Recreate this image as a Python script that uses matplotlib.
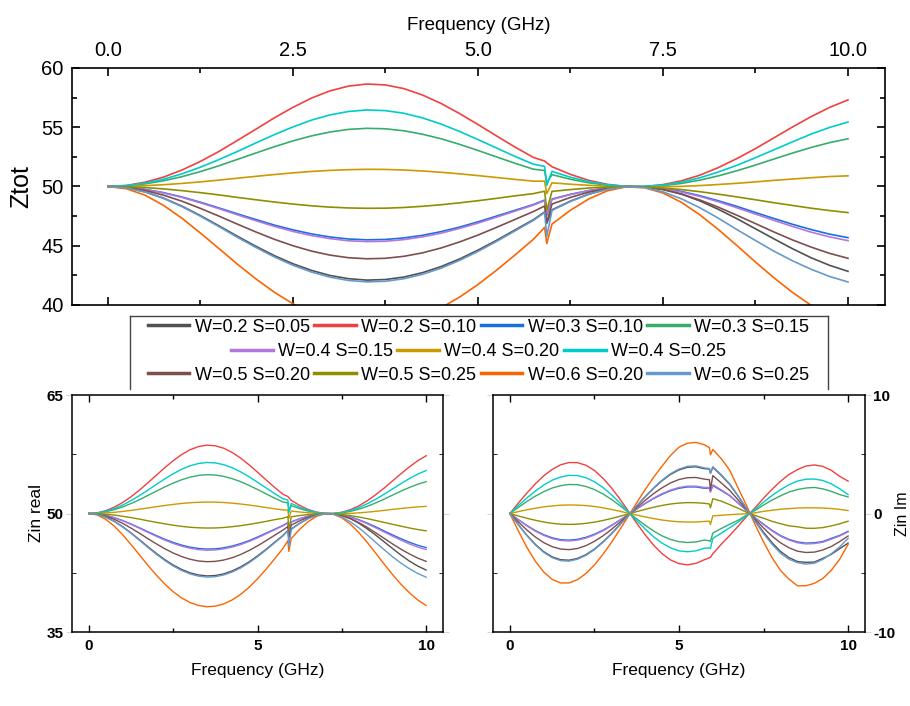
import numpy as np
import matplotlib
matplotlib.use("Agg")
import matplotlib.pyplot as plt
from matplotlib.ticker import MultipleLocator, FixedLocator
from matplotlib.lines import Line2D

plt.rcParams['font.family'] = ['Liberation Sans', 'DejaVu Sans']
plt.rcParams['axes.unicode_minus'] = False

# frequency points (GHz), extra points around the glitch near 5.9 GHz
freq = [0.0, 0.25, 0.5, 0.75, 1.0, 1.25, 1.5, 1.75, 2.0, 2.25, 2.5, 2.75, 3.0, 3.25, 3.5,
        3.75, 4.0, 4.25, 4.5, 4.75, 5.0, 5.25, 5.5, 5.75, 5.9, 5.93, 6.0, 6.25, 6.5, 6.75,
        7.0, 7.25, 7.5, 7.75, 8.0, 8.25, 8.5, 8.75, 9.0, 9.25, 9.5, 9.75, 10.0]

labels = ['W=0.2 S=0.05', 'W=0.2 S=0.10', 'W=0.3 S=0.10', 'W=0.3 S=0.15',
          'W=0.4 S=0.15', 'W=0.4 S=0.20', 'W=0.4 S=0.25',
          'W=0.5 S=0.20', 'W=0.5 S=0.25', 'W=0.6 S=0.20', 'W=0.6 S=0.25']
colors = ['#515151', '#F14040', '#1A6FDF', '#37AD6B',
          '#B177DE', '#CC9900', '#00CBCC',
          '#7D4E4E', '#8E8E00', '#FB6501', '#6699CC']

# real part of Zin (ohm)
re_w02_s005 = [50.00, 49.89, 49.55, 49.02, 48.34, 47.54, 46.68, 45.80, 44.95, 44.16, 43.48, 42.92, 42.49, 42.22, 42.10, 42.15, 42.36, 42.73, 43.24, 43.88, 44.63, 45.45, 46.33, 47.20, 47.85, 46.90, 48.03, 48.77, 49.36, 49.78, 49.98, 49.97, 49.76, 49.36, 48.78, 48.07, 47.28, 46.43, 45.58, 44.75, 43.99, 43.35, 42.84]
re_w02_s010 = [50.00, 50.09, 50.36, 50.79, 51.39, 52.12, 52.96, 53.89, 54.84, 55.80, 56.68, 57.46, 58.07, 58.47, 58.65, 58.57, 58.26, 57.72, 57.01, 56.16, 55.23, 54.27, 53.33, 52.45, 52.15, 52.00, 51.67, 51.02, 50.51, 50.18, 50.01, 50.00, 50.16, 50.48, 50.96, 51.60, 52.36, 53.20, 54.11, 55.02, 55.89, 56.67, 57.31]
re_w03_s010 = [50.00, 49.94, 49.76, 49.48, 49.11, 48.67, 48.19, 47.69, 47.21, 46.74, 46.34, 46.00, 45.74, 45.57, 45.50, 45.53, 45.66, 45.88, 46.19, 46.57, 47.02, 47.50, 47.99, 48.48, 48.85, 47.60, 48.94, 49.34, 49.66, 49.88, 49.99, 49.97, 49.83, 49.58, 49.22, 48.79, 48.32, 47.80, 47.30, 46.81, 46.37, 45.98, 45.68]
re_w03_s015 = [50.00, 50.05, 50.22, 50.48, 50.83, 51.26, 51.75, 52.29, 52.83, 53.36, 53.85, 54.27, 54.60, 54.82, 54.91, 54.87, 54.70, 54.41, 54.03, 53.56, 53.04, 52.50, 51.96, 51.46, 51.35, 50.30, 51.00, 50.61, 50.31, 50.11, 50.01, 50.00, 50.08, 50.26, 50.54, 50.90, 51.33, 51.81, 52.32, 52.82, 53.29, 53.70, 54.03]
re_w04_s015 = [50.00, 49.94, 49.75, 49.46, 49.08, 48.62, 48.13, 47.61, 47.11, 46.63, 46.21, 45.86, 45.60, 45.42, 45.35, 45.38, 45.52, 45.75, 46.06, 46.46, 46.91, 47.41, 47.92, 48.43, 48.80, 47.70, 48.90, 49.32, 49.65, 49.88, 49.99, 49.97, 49.80, 49.53, 49.16, 48.71, 48.20, 47.67, 47.14, 46.63, 46.15, 45.75, 45.43]
re_w04_s020 = [50.00, 50.02, 50.07, 50.15, 50.26, 50.39, 50.54, 50.70, 50.86, 51.01, 51.15, 51.27, 51.36, 51.42, 51.45, 51.44, 51.39, 51.31, 51.20, 51.07, 50.92, 50.76, 50.60, 50.45, 50.45, 49.40, 50.31, 50.19, 50.10, 50.03, 50.00, 49.99, 49.98, 50.01, 50.08, 50.17, 50.27, 50.39, 50.52, 50.63, 50.74, 50.84, 50.90]
re_w04_s025 = [50.00, 50.07, 50.28, 50.61, 51.07, 51.63, 52.27, 52.96, 53.68, 54.38, 55.03, 55.60, 56.04, 56.33, 56.46, 56.40, 56.18, 55.79, 55.27, 54.65, 53.96, 53.25, 52.54, 51.88, 51.70, 50.10, 51.28, 50.78, 50.40, 50.14, 50.01, 50.01, 50.12, 50.36, 50.74, 51.23, 51.79, 52.43, 53.10, 53.77, 54.42, 54.98, 55.44]
re_w05_s020 = [50.00, 49.92, 49.67, 49.27, 48.76, 48.15, 47.50, 46.82, 46.16, 45.54, 45.00, 44.55, 44.21, 43.99, 43.90, 43.94, 44.11, 44.40, 44.81, 45.32, 45.90, 46.55, 47.22, 47.89, 48.35, 47.00, 48.52, 49.08, 49.53, 49.84, 49.99, 49.95, 49.74, 49.36, 48.86, 48.25, 47.57, 46.87, 46.16, 45.49, 44.89, 44.36, 43.94]
re_w05_s025 = [50.00, 49.98, 49.91, 49.80, 49.65, 49.48, 49.29, 49.08, 48.88, 48.69, 48.52, 48.37, 48.26, 48.19, 48.16, 48.17, 48.23, 48.33, 48.46, 48.62, 48.80, 49.00, 49.21, 49.40, 49.60, 48.00, 49.59, 49.74, 49.87, 49.95, 50.00, 49.96, 49.87, 49.74, 49.56, 49.35, 49.12, 48.88, 48.63, 48.40, 48.17, 47.97, 47.80]
re_w06_s020 = [50.00, 49.81, 49.27, 48.41, 47.32, 46.07, 44.76, 43.44, 42.20, 41.07, 40.10, 39.31, 38.73, 38.36, 38.20, 38.27, 38.56, 39.06, 39.76, 40.66, 41.73, 42.93, 44.22, 45.55, 46.55, 45.20, 46.83, 48.00, 48.96, 49.64, 49.97, 49.90, 49.45, 48.66, 47.60, 46.36, 45.01, 43.62, 42.29, 41.06, 39.98, 39.06, 38.35]
re_w06_s025 = [50.00, 49.88, 49.54, 49.00, 48.30, 47.49, 46.61, 45.71, 44.85, 44.05, 43.35, 42.78, 42.35, 42.07, 41.95, 42.00, 42.22, 42.59, 43.10, 43.76, 44.52, 45.36, 46.25, 47.14, 47.80, 45.80, 47.98, 48.74, 49.35, 49.77, 49.98, 49.91, 49.55, 48.96, 48.20, 47.32, 46.36, 45.44, 44.54, 43.73, 43.02, 42.41, 41.94]

# imaginary part of Zin (ohm)
im_w02_s005 = [0.00, -0.94, -1.83, -2.60, -3.22, -3.66, -3.90, -3.94, -3.79, -3.47, -3.00, -2.40, -1.71, -0.95, -0.16, 0.64, 1.41, 2.13, 2.77, 3.30, 3.68, 3.90, 3.94, 3.78, 3.75, 3.40, 3.90, 3.22, 2.45, 1.46, 0.40, -0.62, -1.58, -2.46, -3.20, -3.72, -4.05, -4.12, -4.10, -3.79, -3.45, -2.97, -2.50]
im_w02_s010 = [0.00, 0.88, 1.72, 2.50, 3.18, 3.72, 4.11, 4.30, 4.29, 4.07, 3.63, 2.98, 2.17, 1.23, 0.21, -0.82, -1.80, -2.68, -3.39, -3.92, -4.23, -4.33, -4.21, -3.90, -3.74, -3.70, -3.40, -2.59, -1.85, -1.07, -0.25, 0.48, 1.29, 2.04, 2.71, 3.29, 3.70, 4.00, 4.10, 3.98, 3.65, 3.14, 2.73]
im_w03_s010 = [0.00, -0.52, -1.01, -1.44, -1.79, -2.05, -2.21, -2.25, -2.18, -2.01, -1.75, -1.41, -1.01, -0.56, -0.10, 0.38, 0.84, 1.26, 1.62, 1.92, 2.13, 2.24, 2.24, 2.13, 2.15, 1.85, 2.35, 1.94, 1.50, 0.87, 0.25, -0.36, -0.90, -1.42, -1.86, -2.18, -2.40, -2.50, -2.47, -2.37, -2.10, -1.85, -1.50]
im_w03_s015 = [0.00, 0.51, 1.01, 1.46, 1.84, 2.15, 2.35, 2.45, 2.43, 2.28, 2.02, 1.65, 1.20, 0.67, 0.11, -0.45, -0.99, -1.48, -1.89, -2.19, -2.38, -2.45, -2.40, -2.24, -2.30, -2.35, -1.65, -1.27, -0.90, -0.57, -0.13, 0.26, 0.71, 1.13, 1.49, 1.81, 2.02, 2.15, 2.20, 2.08, 1.87, 1.60, 1.40]
im_w04_s015 = [0.00, -0.53, -1.04, -1.49, -1.85, -2.12, -2.28, -2.32, -2.25, -2.08, -1.81, -1.46, -1.04, -0.58, -0.10, 0.39, 0.86, 1.30, 1.68, 1.98, 2.20, 2.31, 2.31, 2.20, 2.20, 1.80, 2.42, 2.00, 1.53, 0.89, 0.26, -0.37, -0.94, -1.47, -1.92, -2.24, -2.47, -2.57, -2.54, -2.43, -2.17, -1.90, -1.55]
im_w04_s020 = [0.00, 0.16, 0.31, 0.44, 0.56, 0.64, 0.70, 0.72, 0.71, 0.67, 0.59, 0.48, 0.34, 0.19, 0.03, -0.13, -0.29, -0.43, -0.55, -0.64, -0.70, -0.72, -0.72, -0.67, -0.65, -0.93, -0.20, -0.15, -0.10, -0.06, -0.02, 0.06, 0.18, 0.27, 0.36, 0.41, 0.46, 0.48, 0.48, 0.46, 0.42, 0.35, 0.25]
im_w04_s025 = [0.00, 0.67, 1.31, 1.89, 2.40, 2.81, 3.08, 3.22, 3.20, 3.02, 2.68, 2.20, 1.59, 0.90, 0.15, -0.60, -1.32, -1.97, -2.50, -2.90, -3.15, -3.23, -3.15, -2.93, -2.90, -2.95, -2.10, -1.66, -1.20, -0.73, -0.17, 0.35, 0.96, 1.52, 2.00, 2.43, 2.73, 2.89, 2.91, 2.79, 2.51, 2.09, 1.60]
im_w05_s020 = [0.00, -0.71, -1.39, -1.98, -2.46, -2.80, -3.00, -3.05, -2.95, -2.71, -2.35, -1.89, -1.35, -0.75, -0.13, 0.50, 1.11, 1.68, 2.17, 2.58, 2.87, 3.02, 3.04, 2.90, 2.85, 2.00, 3.20, 2.58, 1.95, 1.14, 0.32, -0.48, -1.22, -1.90, -2.47, -2.89, -3.18, -3.29, -3.26, -3.08, -2.79, -2.37, -1.90]
im_w05_s025 = [0.00, -0.21, -0.40, -0.57, -0.72, -0.83, -0.90, -0.92, -0.90, -0.83, -0.73, -0.59, -0.42, -0.24, -0.04, 0.16, 0.35, 0.53, 0.68, 0.80, 0.88, 0.92, 0.91, 0.86, 0.80, 0.48, 1.25, 1.04, 0.75, 0.44, 0.10, -0.17, -0.40, -0.66, -0.86, -1.04, -1.12, -1.24, -1.25, -1.19, -1.05, -0.87, -0.65]
im_w06_s020 = [0.00, -1.48, -2.85, -4.02, -4.94, -5.56, -5.86, -5.86, -5.58, -5.06, -4.34, -3.45, -2.45, -1.36, -0.23, 0.91, 2.02, 3.06, 4.00, 4.90, 5.60, 5.93, 6.00, 5.80, 5.55, 4.95, 5.40, 4.63, 3.65, 2.14, 0.65, -0.94, -2.40, -3.72, -4.80, -5.53, -6.10, -6.10, -5.90, -5.49, -4.80, -3.87, -2.60]
im_w06_s025 = [0.00, -0.96, -1.86, -2.65, -3.28, -3.73, -3.98, -4.02, -3.86, -3.53, -3.05, -2.44, -1.74, -0.97, -0.16, 0.65, 1.44, 2.17, 2.82, 3.36, 3.75, 3.98, 4.02, 3.85, 3.80, 3.40, 3.95, 3.28, 2.50, 1.48, 0.41, -0.68, -1.70, -2.59, -3.35, -3.86, -4.15, -4.27, -4.20, -3.88, -3.40, -2.82, -2.10]

re_all = [re_w02_s005, re_w02_s010, re_w03_s010, re_w03_s015, re_w04_s015, re_w04_s020,
          re_w04_s025, re_w05_s020, re_w05_s025, re_w06_s020, re_w06_s025]
im_all = [im_w02_s005, im_w02_s010, im_w03_s010, im_w03_s015, im_w04_s015, im_w04_s020,
          im_w04_s025, im_w05_s020, im_w05_s025, im_w06_s020, im_w06_s025]

W, H = 910, 706
def box(l, t, r, b):
    return [l / W, 1 - b / H, (r - l) / W, (b - t) / H]

fig = plt.figure(figsize=(W / 100, H / 100), dpi=100)
ax_top = fig.add_axes(box(72, 68, 885, 305))
ax_re = fig.add_axes(box(72, 395, 443, 632))
ax_im = fig.add_axes(box(493, 395, 865, 632))

lines = []
for y, c, lab in zip(re_all, colors, labels):
    ln, = ax_top.plot(freq, y, color=c, lw=1.2, label=lab)
    lines.append(ln)
    ax_re.plot(freq, y, color=c, lw=1.0)
for y, c in zip(im_all, colors):
    ax_im.plot(freq, y, color=c, lw=1.0)

# ---- top panel
ax_top.set_xlim(-0.486, 10.5)
ax_top.set_ylim(40, 60)
ax_top.xaxis.set_major_locator(FixedLocator([0, 2.5, 5, 7.5, 10]))
ax_top.xaxis.set_minor_locator(MultipleLocator(1.25))
ax_top.yaxis.set_major_locator(MultipleLocator(5))
ax_top.yaxis.set_minor_locator(MultipleLocator(2.5))
ax_top.set_xticklabels(['0.0', '2.5', '5.0', '7.5', '10.0'])
ax_top.xaxis.set_label_position('top')
ax_top.tick_params(which='both', direction='in', top=True, bottom=True, left=True, right=True,
                   labeltop=True, labelbottom=False, width=1.2)
ax_top.tick_params(which='major', length=6, labelsize=14.5, pad=6)
ax_top.tick_params(which='minor', length=3.5)
ax_top.set_xlabel('Frequency (GHz)', fontsize=13.5, labelpad=8)
ax_top.set_ylabel('Ztot', fontsize=18, labelpad=6)
for sp in ax_top.spines.values():
    sp.set_linewidth(1.2)

# ---- bottom panels
def style_bottom(ax, ylim, yticks):
    ax.set_xlim(-0.5, 10.5)
    ax.set_ylim(*ylim)
    ax.xaxis.set_major_locator(FixedLocator([0, 5, 10]))
    ax.xaxis.set_minor_locator(FixedLocator([2.5, 7.5]))
    ax.yaxis.set_major_locator(FixedLocator(yticks))
    ax.yaxis.set_minor_locator(FixedLocator([(yticks[0] + yticks[1]) / 2, (yticks[1] + yticks[2]) / 2]))
    ax.tick_params(axis='x', which='both', direction='in', top=True, bottom=True, width=1.0)
    ax.tick_params(axis='x', which='major', length=5, labelsize=11, pad=5)
    ax.tick_params(axis='x', which='minor', length=3)
    ax.tick_params(axis='y', which='major', direction='out', length=4, color='#d8d8d8',
                   left=True, right=True, labelsize=11, pad=2)
    ax.tick_params(axis='y', which='minor', direction='in', length=3, left=True, right=True)
    ax.set_xlabel('Frequency (GHz)', fontsize=12.5, labelpad=7)
    for sp in ax.spines.values():
        sp.set_linewidth(1.1)

style_bottom(ax_re, (35, 65), [35, 50, 65])
ax_re.set_ylabel('Zin real', fontsize=12.5, labelpad=2)

style_bottom(ax_im, (-10, 10), [-10, 0, 10])
ax_im.yaxis.set_label_position('right')
ax_im.tick_params(axis='y', labelleft=False, labelright=True)
ax_im.set_ylabel('Zin Im', fontsize=11.5, labelpad=0)

# bold tick labels on both sides of the small panels
for ax in (ax_re, ax_im):
    for t in ax.xaxis.get_major_ticks() + ax.yaxis.get_major_ticks():
        t.label1.set_fontweight('bold')
        t.label2.set_fontweight('bold')

# ---- legend: three centred rows inside one frame
rows = [(lines[0:4], 327), (lines[4:7], 352), (lines[7:11], 375)]
for handles, ypix in rows:
    leg = fig.legend(handles=handles, loc='center', ncol=len(handles),
                     bbox_to_anchor=(478.5 / W, 1 - ypix / H), frameon=False,
                     fontsize=13, handlelength=2.3, handletextpad=0.3,
                     columnspacing=0.25, borderpad=0, borderaxespad=0)
    for hl in leg.get_lines():
        hl.set_linewidth(2.5)

fx = lambda p: p / W
fy = lambda p: 1 - p / H
fig.lines.append(Line2D([fx(130), fx(828)], [fy(316), fy(316)], color='#444444', lw=1.0, transform=fig.transFigure))
fig.lines.append(Line2D([fx(130), fx(130)], [fy(316), fy(389)], color='#444444', lw=1.0, transform=fig.transFigure))
fig.lines.append(Line2D([fx(828), fx(828)], [fy(316), fy(389)], color='#444444', lw=1.0, transform=fig.transFigure))

fig.savefig('out.png', dpi=100)
